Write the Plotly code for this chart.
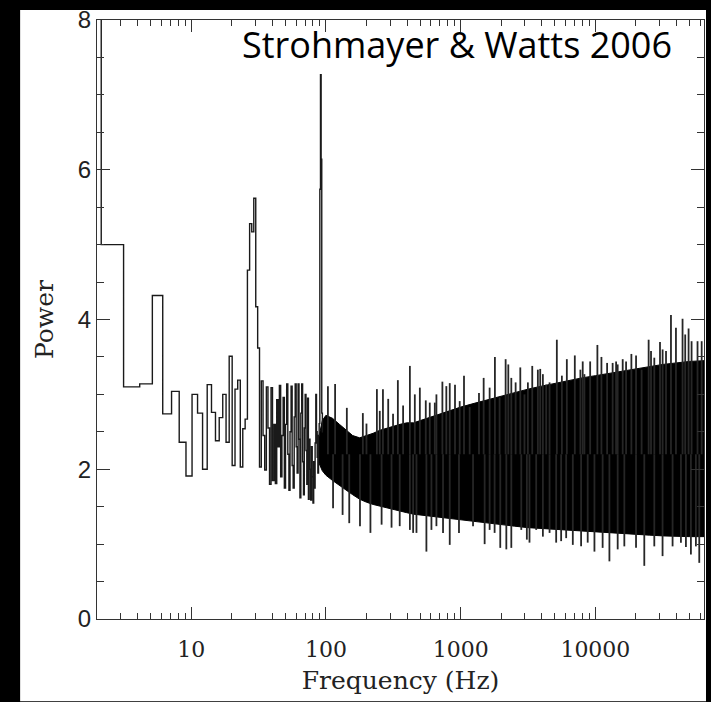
import math
import plotly.graph_objects as go

# ---------------- data ----------------
# resolved power spectrum bins (left edge in Hz, power), up to ~95 Hz
bin_lo_hz = [1.15, 2.15, 3.15, 4.15, 5.15, 6.15, 7.15, 8.15, 9.15, 10.15,
             11.15, 12.15, 13.15, 14.15, 15.15, 16.15, 17.15, 18.15, 19.15,
             20.15, 21.15, 22.15, 23.15, 24.15, 25.15, 26.15, 27.15, 28.15,
             29.15, 30.15, 31.15, 32.15, 33.15, 34.15, 35.15, 36.15, 37.15,
             38.15, 39.15, 40.15, 41.15, 42.15, 43.15, 44.15, 45.15, 46.15,
             47.15, 48.15, 49.15, 50.15, 51.15, 52.15, 53.15, 54.15, 55.15,
             56.15, 57.15, 58.15, 59.15, 60.15, 61.15, 62.15, 63.15, 64.15,
             65.15, 66.15, 67.15, 68.15, 69.15, 70.15, 71.15, 72.15, 73.15,
             74.15, 75.15, 76.15, 77.15, 78.15, 79.15, 80.15, 81.15, 82.15,
             83.15, 84.15, 85.15, 86.15, 87.15, 88.15, 89.15, 90.15, 91.15,
             92.15, 93.15, 94.15, 95.15]
bin_power = [9.0, 5.00, 3.10, 3.14, 4.32, 2.74, 3.04, 2.36, 1.91, 3.00,
             2.75, 2.00, 3.13, 2.76, 2.38, 2.69, 3.00, 2.36, 3.51,
             2.05, 3.07, 3.19, 2.03, 2.54, 2.67, 4.66, 5.28, 5.17,
             5.62, 4.17, 3.62, 2.03, 3.18, 2.45, 1.99, 3.10, 2.55,
             1.80, 3.09, 1.85, 2.60, 1.81, 2.93, 2.30, 3.12, 1.90,
             2.45, 2.96, 1.75, 2.60, 3.14, 2.20, 1.72, 2.50, 3.11,
             2.05, 1.75, 2.70, 3.14, 2.30, 1.95, 3.14, 2.40, 1.62,
             2.75, 3.14, 2.10, 1.66, 2.55, 3.00, 2.25, 1.80, 2.95,
             1.60, 2.40, 2.00, 1.59, 2.30, 1.90, 1.55, 2.10, 1.75,
             2.35, 3.00, 2.50, 2.16, 1.95, 2.45, 2.61, 5.74, 7.27,
             6.14, 2.75, 2.50, 2.50]

# dense noise region above ~90 Hz: solid black core (upper / lower edge)
core_hz = [88, 94, 100, 112, 126, 141, 158, 178, 200, 224, 251, 282, 316, 355,
           398, 447, 501, 562, 631, 708, 794, 891, 1000, 1259, 1585, 1995,
           2512, 3162, 3981, 5012, 6310, 7943, 10000, 12589, 15849, 19953,
           25119, 31623, 39811, 50119, 64000]
core_upper = [2.40, 2.65, 2.72, 2.68, 2.60, 2.52, 2.45, 2.42, 2.45, 2.48, 2.52, 2.55, 2.58, 2.60,
              2.62, 2.62, 2.65, 2.68, 2.72, 2.75, 2.78, 2.80, 2.83, 2.88, 2.93, 2.98,
              3.03, 3.07, 3.11, 3.15, 3.19, 3.22, 3.25, 3.28, 3.31, 3.34,
              3.37, 3.40, 3.42, 3.44, 3.45]
core_lower = [2.10, 1.98, 1.92, 1.85, 1.78, 1.72, 1.66, 1.60, 1.56, 1.53, 1.50, 1.48, 1.46, 1.44,
              1.42, 1.40, 1.38, 1.37, 1.36, 1.35, 1.34, 1.33, 1.32, 1.30, 1.28, 1.26,
              1.24, 1.22, 1.20, 1.19, 1.18, 1.17, 1.16, 1.15, 1.14, 1.13,
              1.12, 1.11, 1.10, 1.10, 1.10]

# individual upward spikes above the core (Hz, power)
spike_up_hz = [103.5, 117, 143, 188, 200, 239, 251, 265,
               290, 315, 342, 374, 420, 457, 498, 551, 590, 643, 661, 732, 783,
               830, 908, 984, 1059, 1167, 1368, 1482, 1641, 1796, 1946, 2157,
               2258, 2377, 2559, 2772, 2977, 3155, 3400, 3742, 3896, 4077, 4315,
               4570, 5176, 5640, 6140, 7036, 7740, 8054, 8290, 9146, 10350,
               11090, 12220, 13430, 14250, 14640, 15950, 16900, 18500, 20040,
               22030, 24850, 25880, 27370, 30170, 31550, 33440, 36390, 39630,
               44360, 46420, 49170, 51760, 57300, 61500]
spike_up_p = [3.11, 3.14, 2.82, 2.75, 2.61, 3.07, 2.78, 3.07,
              2.94, 2.74, 3.19, 2.85, 3.38, 3.00, 3.09, 2.92, 2.89, 2.89, 3.00, 3.17, 3.11,
              3.15, 3.13, 2.91, 3.25, 2.83, 3.02, 3.22, 3.09, 3.50, 2.96, 3.47,
              3.40, 3.22, 3.16, 3.36, 3.00, 3.16, 3.38, 3.33, 3.34, 3.27, 3.13,
              3.16, 3.73, 3.25, 3.47, 3.52, 3.33, 3.44, 3.27, 3.44, 3.66,
              3.50, 3.42, 3.42, 3.44, 3.40, 3.47, 3.44, 3.54, 3.52,
              3.33, 3.73, 3.58, 3.49, 3.70, 3.60, 3.58, 4.06, 3.89,
              4.01, 3.80, 3.88, 3.71, 3.71, 3.71]

# individual downward spikes below the core (Hz, power)
spike_dn_hz = [113, 133, 149, 179, 214, 259, 307, 353, 420, 444, 470, 557, 607,
               661, 740, 830, 972, 1236, 1507, 1641, 1787, 1968, 2183, 2377,
               2818, 3100, 3243, 3637, 4077, 4571, 5117, 5570, 6070, 6800, 7834,
               8770, 9840, 11320, 12710, 14640, 16400, 20030, 23070, 27370,
               31520, 37410, 43150, 46990, 51170, 55720, 59020]
spike_dn_p = [1.48, 1.39, 1.28, 1.24, 1.15, 1.26, 1.22, 1.24, 1.19, 1.15, 1.15, 0.90, 1.19,
              1.24, 1.15, 0.99, 1.15, 1.24, 1.00, 1.19, 1.15, 0.95, 0.93, 0.95,
              1.19, 1.06, 1.02, 1.19, 1.10, 1.15, 1.02, 1.04, 1.08, 0.99, 0.97,
              1.02, 0.90, 0.95, 0.77, 0.93, 0.97, 0.95, 0.71, 0.97,
              0.84, 0.97, 1.02, 0.96, 0.86, 0.97, 0.75]

x_tick_vals = [10, 100, 1000, 10000]
x_tick_text = ["10", "100", "1000", "10000"]
y_tick_vals = [0, 2, 4, 6, 8]

# ---------------- figure ----------------
W, H = 711, 702
ML, MR, MT, MB = 97, 6, 15, 83
pw, ph = W - ML - MR, H - MT - MB

def px_x(px):
    return (px - ML) / pw

def px_y(py):
    return (H - MB - py) / ph

INK = "#1a1a1a"
AX = "#333333"
SPIKE_BASE = 2.2

fig = go.Figure()

# solid black core of the noise
fig.add_trace(go.Scatter(
    x=core_hz + core_hz[::-1],
    y=core_upper + core_lower[::-1],
    mode="lines", fill="toself", fillcolor="black",
    line=dict(color="black", width=1.0), hoverinfo="skip"))

# spikes
sx, sy = [], []
for f, p in zip(spike_up_hz, spike_up_p):
    sx += [f, f, None]
    sy += [SPIKE_BASE, p, None]
for f, p in zip(spike_dn_hz, spike_dn_p):
    sx += [f, f, None]
    sy += [SPIKE_BASE, p, None]
fig.add_trace(go.Scatter(x=sx, y=sy, mode="lines",
                         line=dict(color="#262626", width=1.8), hoverinfo="skip"))

# resolved step spectrum
fig.add_trace(go.Scatter(x=bin_lo_hz, y=bin_power, mode="lines",
                         line=dict(color=INK, width=1.4, shape="hv"),
                         hoverinfo="skip"))

minor_x = [m * 10 ** k for k in range(0, 5) for m in range(2, 10)]

fig.update_xaxes(
    type="log", range=[math.log10(2.0), math.log10(64000)],
    showline=True, linecolor=AX, linewidth=1.3, mirror="ticks",
    ticks="inside", ticklen=12, tickwidth=1.3, tickcolor=AX,
    tickmode="array", tickvals=x_tick_vals, ticktext=x_tick_text,
    tickfont=dict(family="DejaVu Serif", size=22, color="#222"),
    ticklabelstandoff=10,
    minor=dict(ticks="inside", ticklen=6, tickwidth=1.1, tickcolor=AX,
               tickmode="array", tickvals=minor_x),
    showgrid=False, zeroline=False,
    title=dict(text="Frequency (Hz)", standoff=10,
               font=dict(family="DejaVu Serif", size=25, color="#222")),
)
fig.update_yaxes(
    range=[0, 8], showline=True, linecolor=AX, linewidth=1.3, mirror="ticks",
    ticks="inside", ticklen=13, tickwidth=1.3, tickcolor=AX,
    tickmode="array", tickvals=y_tick_vals,
    tickfont=dict(family="Liberation Sans", size=24, color="#222"),
    minor=dict(ticks="inside", ticklen=7, tickwidth=1.1, tickcolor=AX, dtick=0.5),
    showgrid=False, zeroline=False,
    title=dict(text="Power", standoff=16,
               font=dict(family="DejaVu Serif", size=25, color="#222")),
)

fig.update_layout(
    width=W, height=H, margin=dict(l=ML, r=MR, t=MT, b=MB),
    paper_bgcolor="black", plot_bgcolor="white", showlegend=False,
    shapes=[dict(type="rect", xref="paper", yref="paper", layer="below",
                 x0=px_x(20), x1=px_x(707), y0=px_y(702), y1=px_y(5),
                 fillcolor="white", line=dict(width=0))],
    annotations=[dict(text="Strohmayer & Watts 2006", xref="paper", yref="paper",
                      x=px_x(675), y=px_y(40), xanchor="right", yanchor="middle",
                      showarrow=False,
                      font=dict(family="Open Sans", size=36, color="black"))],
)

fig.write_html("out.html")
